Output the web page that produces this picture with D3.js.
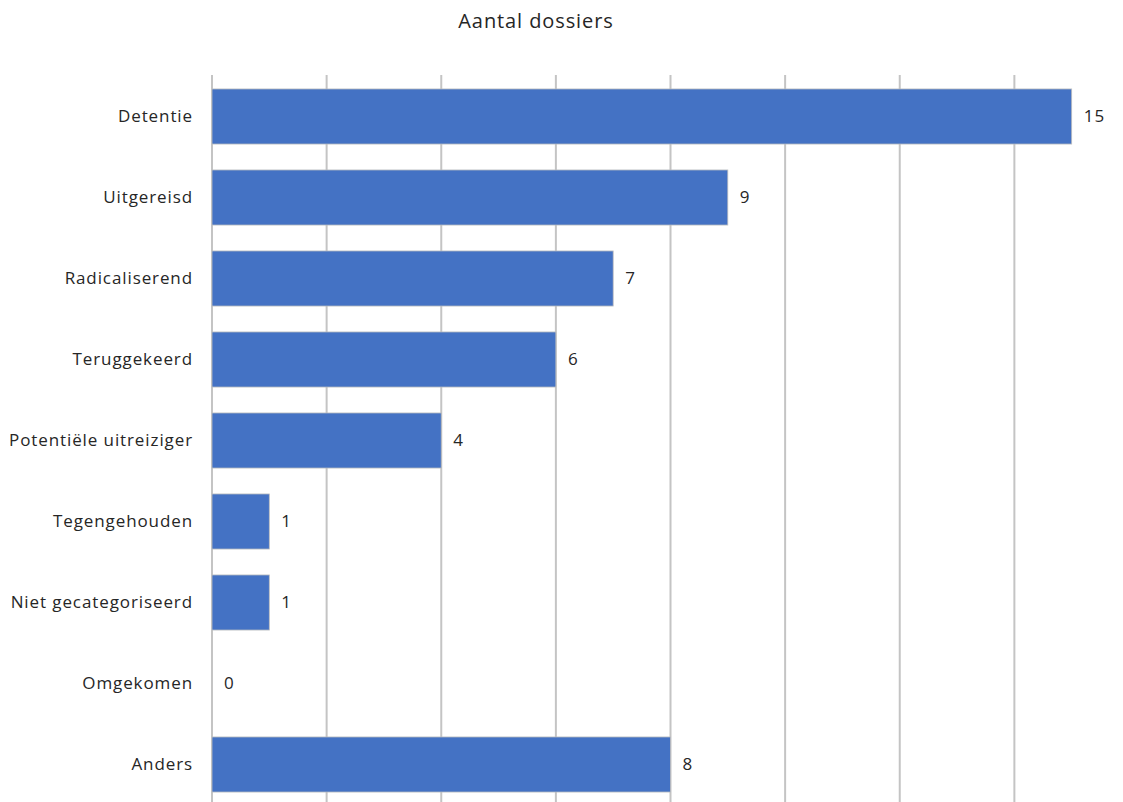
<!DOCTYPE html>
<html>
<head>
<meta charset="utf-8">
<script src="https://cdn.jsdelivr.net/npm/d3@7"></script>
<style>
  body { margin: 0; background: #fff; }
  svg { display: block; font-family: "Open Sans", "Lato", sans-serif; }
</style>
</head>
<body>
<svg id="chart" width="1123" height="802"></svg>
<script>
// Aantal dossiers per categorie
const categories = ["Detentie", "Uitgereisd", "Radicaliserend", "Teruggekeerd",
  "Potentiële uitreiziger", "Tegengehouden", "Niet gecategoriseerd", "Omgekomen", "Anders"];
const values = [15, 9, 7, 6, 4, 1, 1, 0, 8];
const gridTicks = [0, 2, 4, 6, 8, 10, 12, 14, 16];
const title = "Aantal dossiers";

const svg = d3.select("#chart");

const x = d3.scaleLinear().domain([0, 16]).range([212, 1129]);
const y = d3.scaleBand().domain(categories).range([76, 805]).paddingInner(0.32).paddingOuter(0.16);

// vertical gridlines
svg.append("g").selectAll("line").data(gridTicks).join("line")
  .attr("x1", d => x(d)).attr("x2", d => x(d))
  .attr("y1", 75).attr("y2", 802)
  .attr("stroke", "#c4c4c4").attr("stroke-width", 2);

// bars
svg.append("g").selectAll("rect").data(categories).join("rect")
  .attr("x", x(0))
  .attr("y", d => y(d))
  .attr("width", (d, i) => x(values[i]) - x(0))
  .attr("height", y.bandwidth())
  .attr("fill", "#4472C4")
  .attr("stroke", (d, i) => values[i] > 0 ? "#bfbfbf" : "none")
  .attr("stroke-width", 0.8);

// category labels
svg.append("g").selectAll("text").data(categories).join("text")
  .attr("x", 193)
  .attr("y", d => y(d) + y.bandwidth() / 2)
  .attr("dy", "0.35em")
  .attr("text-anchor", "end")
  .attr("font-size", 17)
  .attr("letter-spacing", 0.9)
  .attr("fill", "#262626")
  .text(d => d);

// value labels
svg.append("g").selectAll("text").data(categories).join("text")
  .attr("x", (d, i) => x(values[i]) + 12)
  .attr("y", d => y(d) + y.bandwidth() / 2)
  .attr("dy", "0.35em")
  .attr("font-size", 17)
  .attr("letter-spacing", 1)
  .attr("fill", "#262626")
  .text((d, i) => values[i]);

// title
svg.append("text")
  .attr("x", 536).attr("y", 28)
  .attr("text-anchor", "middle")
  .attr("font-size", 20)
  .attr("letter-spacing", 0.9)
  .attr("fill", "#262626")
  .text(title);
</script>
</body>
</html>
